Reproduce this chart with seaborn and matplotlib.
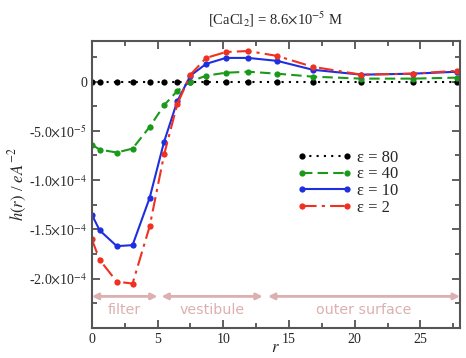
import matplotlib
matplotlib.use("Agg")
import matplotlib.pyplot as plt
import matplotlib.ticker as mticker
import pandas as pd
import seaborn as sns

# radial positions shared by all series
r = [0, 0.6, 1.9, 3.1, 4.4, 5.5, 6.5, 7.5, 8.7, 10.2, 11.9, 14.1, 16.8, 20.5, 24.4, 27.8]

eps80 = [0] * 16
eps40 = [-6.4e-5, -6.9e-5, -7.2e-5, -6.8e-5, -4.6e-5, -2.4e-5, -9.5e-6, 0.0,
         6e-6, 9e-6, 1e-5, 8e-6, 5e-6, 3e-6, 3e-6, 4e-6]
eps10 = [-1.35e-4, -1.51e-4, -1.67e-4, -1.66e-4, -1.18e-4, -6.1e-5, -2.0e-5, 6e-6,
         1.8e-5, 2.4e-5, 2.4e-5, 2.1e-5, 1.2e-5, 7e-6, 8e-6, 1e-5]
eps2 = [-1.60e-4, -1.81e-4, -2.03e-4, -2.05e-4, -1.47e-4, -7.4e-5, -2.3e-5, 7e-6,
        2.4e-5, 3.0e-5, 3.1e-5, 2.6e-5, 1.5e-5, 7e-6, 8e-6, 1.1e-5]

labels = ["ε = 80", "ε = 40", "ε = 10", "ε = 2"]
colors = ["black", "#1a9a1a", "#1f2fe0", "#f03020"]
styles = [(0, (1, 2.5)), (0, (5, 2.5)), "-", (0, (7, 2.5, 1.5, 2.5))]

regions = ["filter", "vestibule", "outer surface"]
region_spans = [(0, 5.0), (5.3, 13.0), (13.4, 28)]

sns.set_style("ticks")
plt.rcParams["font.family"] = ["Liberation Serif", "DejaVu Serif"]
plt.rcParams["mathtext.fontset"] = "stix"

fig = plt.figure(figsize=(4.66, 3.58), dpi=100)
ax = fig.add_axes([0.197, 0.084, 0.79, 0.801])

for vals, lab, col, ls in zip([eps80, eps40, eps10, eps2], labels, colors, styles):
    df = pd.DataFrame({"r": r, "h": vals})
    sns.lineplot(data=df, x="r", y="h", ax=ax, color=col, linestyle=ls,
                 marker="o", markersize=4.5, markeredgewidth=0, linewidth=1.5,
                 label=lab, clip_on=True)

# region arrows
pink = "#dcb0b0"
for name, (a, b) in zip(regions, region_spans):
    ax.annotate("", xy=(a, -2.18e-4), xytext=(b, -2.18e-4),
                arrowprops=dict(arrowstyle="<|-|>", color=pink, lw=2,
                                mutation_scale=9, shrinkA=0, shrinkB=0))
    ax.text((a + b) / 2, -2.315e-4, name, color=pink, fontsize=10.3,
            family="DejaVu Sans", ha="center", va="center")

ax.set_xlim(0, 28)
ax.set_ylim(-2.5e-4, 4.1e-5)
ax.xaxis.set_major_locator(mticker.MultipleLocator(5))
ax.xaxis.set_minor_locator(mticker.MultipleLocator(2.5))
ax.set_yticks([0, -5e-5, -1e-4, -1.5e-4, -2e-4])
ax.set_yticklabels(["0", r"-5.0$\times$10$^{-5}$", r"-1.0$\times$10$^{-4}$",
                    r"-1.5$\times$10$^{-4}$", r"-2.0$\times$10$^{-4}$"])
ax.yaxis.set_minor_locator(mticker.MultipleLocator(2.5e-5))
ax.tick_params(which="both", direction="in", top=True, right=True,
               labelsize=10, color="#444444")
ax.tick_params(which="major", length=6, width=1.2)
ax.tick_params(which="minor", length=3.5, width=1.2)
for sp in ax.spines.values():
    sp.set_linewidth(1.5)
    sp.set_color("#555555")

ax.set_xlabel("$r$", fontsize=12, labelpad=-4)
ax.set_ylabel("$h(r)$ / $eA^{-2}$", fontsize=12, labelpad=0)
ax.set_title(r"[CaCl$_2$] = 8.6$\times$10$^{-5}$ M", fontsize=10.5, pad=12)

ax.legend(loc="upper left", bbox_to_anchor=(0.54, 0.645), frameon=False,
          numpoints=2, handlelength=3.3, handletextpad=0.3, labelspacing=0.05,
          fontsize=12, borderaxespad=0)

fig.savefig("out.png", dpi=100)
